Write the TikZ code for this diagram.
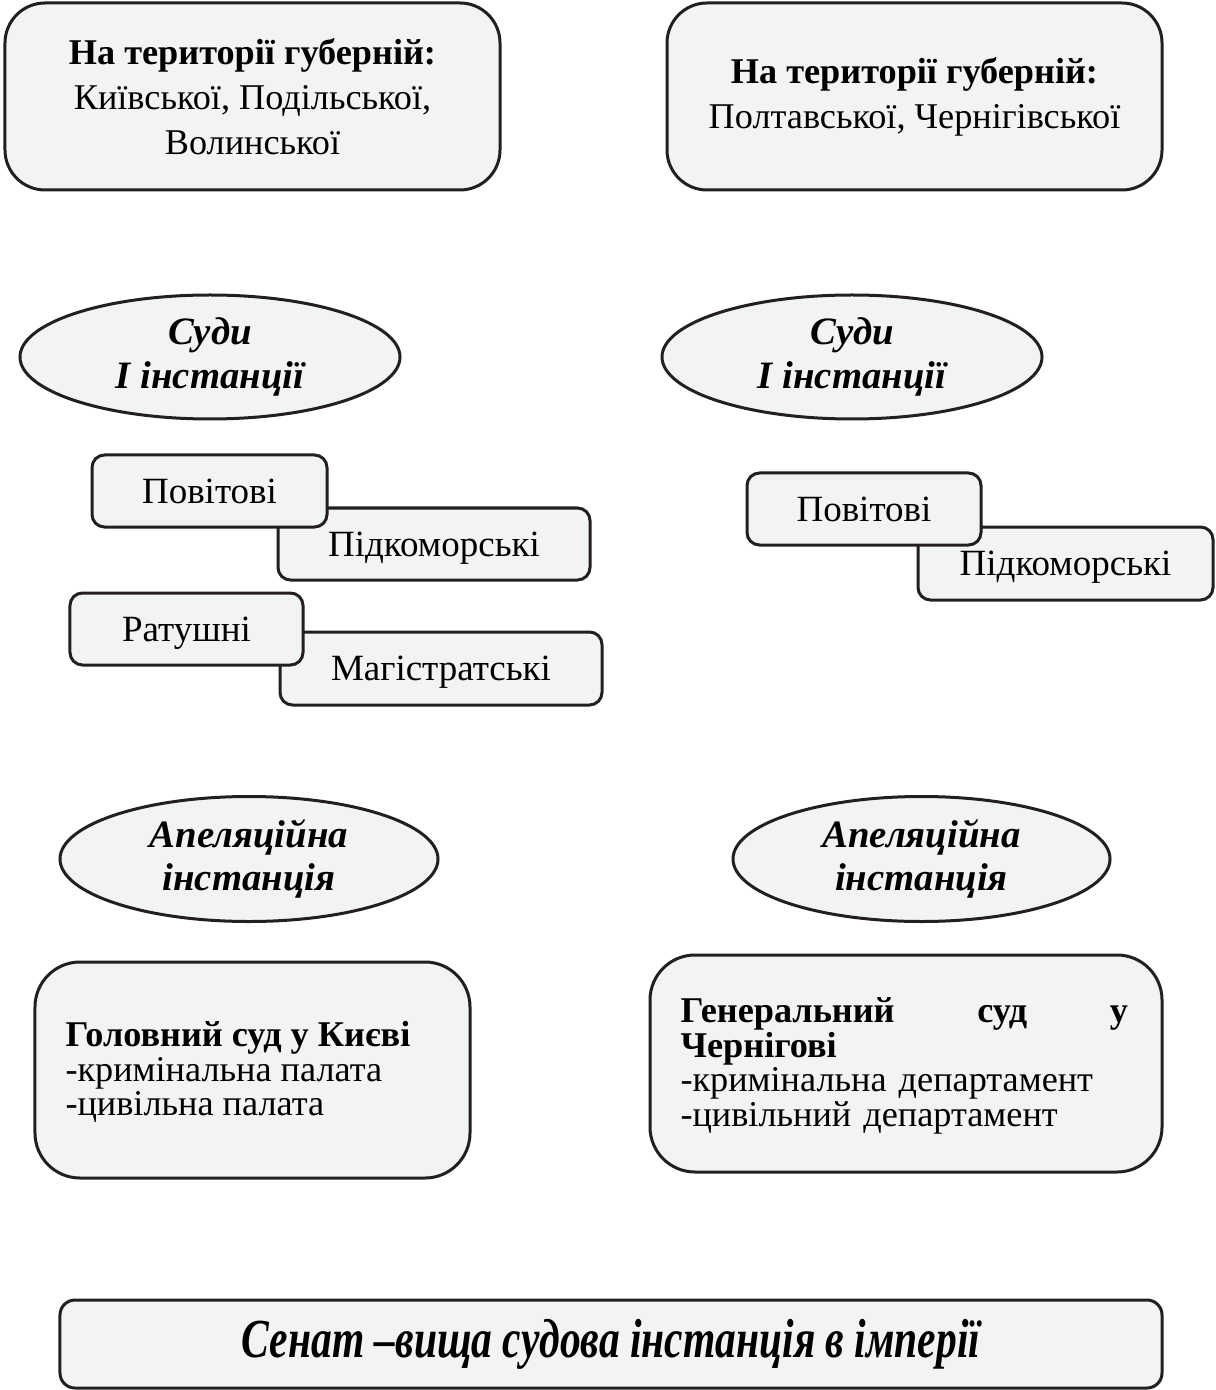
\documentclass[tikz,border=0pt]{standalone}
\usepackage{fontspec}
\setmainfont{Liberation Serif}
\usetikzlibrary{shapes.geometric}
\usepackage{graphicx}

\definecolor{boxfill}{HTML}{F2F3F3}
\definecolor{boxline}{HTML}{231F20}

\tikzset{
    region/.style={draw=boxline, fill=boxfill, line width=1.2pt, rounded corners=16pt,
        align=center, font=\fontsize{14.5}{18}\selectfont},
    instance/.style={ellipse, draw=boxline, fill=boxfill, line width=1.2pt, inner sep=0pt,
        align=center, font=\fontsize{15.5}{17.5}\selectfont\bfseries\itshape},
    court/.style={draw=boxline, fill=boxfill, line width=1.2pt, rounded corners=5pt,
        inner sep=0pt, minimum height=28.8pt, text depth=0pt, font=\fontsize{14.8}{16}\selectfont},
    appeal/.style={draw=boxline, fill=boxfill, line width=1.2pt, rounded corners=18pt,
        inner sep=0pt, font=\fontsize{14.5}{11.6}\selectfont},
}

\begin{document}
\begin{tikzpicture}[x=0.4pt, y=-0.4pt]
    \useasboundingbox (0,0) rectangle (1215,1390);

    % Provinces
    \node[region, minimum width=198pt, minimum height=74.8pt] (provW) at (252.5,96.5)
        {\textbf{На території губерній:}\\Київської, Подільської,\\Волинської};
    \node[region, minimum width=198pt, minimum height=74.8pt] (provE) at (914.5,96.5)
        {\textbf{На території губерній:}\\Полтавської, Чернігівської};

    % First instance
    \node[instance, minimum width=152pt, minimum height=49.6pt] (firstW) at (210,357)
        {Суди\\І інстанції};
    \node[instance, minimum width=152pt, minimum height=49.6pt] (firstE) at (852,357)
        {Суди\\І інстанції};

    % Courts of first instance, west
    \node[court, minimum width=124.8pt] (podkW) at (434,544) {Підкоморські};
    \node[court, minimum width=94pt] (povW) at (209.5,491) {Повітові};
    \node[court, minimum width=128.8pt, minimum height=29.2pt] (magW) at (441,668.5) {Магістратські};
    \node[court, minimum width=93.2pt] (ratW) at (186.5,629) {Ратушні};

    % Courts of first instance, east
    \node[court, minimum width=118pt, minimum height=29.2pt] (podkE) at (1065.5,563.5) {Підкоморські};
    \node[court, minimum width=93.6pt] (povE) at (864,509) {Повітові};

    % Appeal instance
    \node[instance, minimum width=151.2pt, minimum height=50pt] (appW) at (249,859)
        {Апеляційна\\інстанція};
    \node[instance, minimum width=150.8pt, minimum height=50pt] (appE) at (921.5,859)
        {Апеляційна\\інстанція};

    % Appeal courts
    \node[appeal, minimum width=174pt, minimum height=86.4pt] (kyiv) at (252.5,1070) {};
    \node[anchor=west, align=left, inner sep=0pt, font=\fontsize{14.5}{11.8}\selectfont] (kyivT) at (65,1072)
        {\textbf{Головний суд у Києві}\\-кримінальна палата\\-цивільна палата};
    \node[appeal, minimum width=204.8pt, minimum height=86.8pt] (chern) at (906,1063.5) {};
    \node[anchor=west, align=left, text width=179pt, inner sep=0pt, font=\fontsize{14.5}{11.8}\selectfont] (chernT) at (680,1066)
        {\hbox to 179pt{\bfseries Генеральний\hfill суд\hfill у}\\\textbf{Чернігові}\\-кримінальна департамент\\-цивільний департамент};

    % Senate
    \node[draw=boxline, fill=boxfill, line width=1.2pt, rounded corners=6pt,
        minimum width=440.8pt, minimum height=35.2pt] (senate) at (611,1344)
        {\scalebox{0.755}[1]{\fontsize{22}{24}\selectfont\bfseries\itshape Сенат –вища судова інстанція в імперії}};
\end{tikzpicture}
\end{document}
